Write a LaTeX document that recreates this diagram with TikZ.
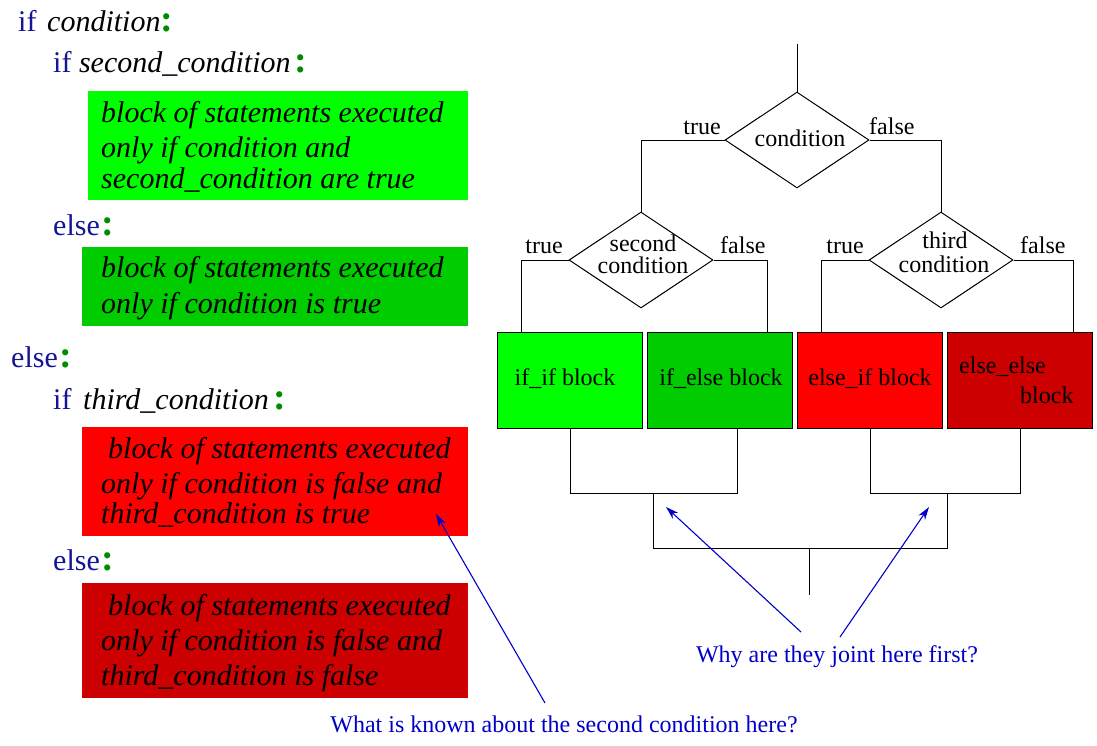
\documentclass[tikz,border=0pt]{standalone}
\usepackage{fontspec}
\setmainfont{Liberation Serif}[ItalicFont=Liberation Serif Italic]
\usetikzlibrary{shapes.geometric,arrows.meta}

\definecolor{kwblue}{RGB}{20,20,150}
\definecolor{colgreen}{RGB}{0,140,0}
\definecolor{noteblue}{RGB}{0,0,200}
\definecolor{ififfill}{RGB}{0,255,0}
\definecolor{ifelsefill}{RGB}{0,204,0}
\definecolor{elseiffill}{RGB}{255,0,0}
\definecolor{elseelsefill}{RGB}{204,0,0}

\newcommand\kwd[1]{\textcolor{kwblue}{#1}}
\newcommand\colmark{\textcolor{colgreen}{{\fontsize{38}{38}\selectfont\bfseries :}}}

\begin{document}
\begin{tikzpicture}[x=1pt,y=-1pt,
  code/.style={anchor=base west, inner sep=0pt, font=\fontsize{30}{36}\selectfont},
  stmt/.style={anchor=base west, inner sep=0pt, font=\fontsize{30}{36}\selectfont\itshape},
  panel/.style={anchor=north west, inner sep=0pt, outer sep=0pt, draw=none, fill=#1},
  lbl/.style={inner sep=0pt, font=\fontsize{24}{24}\selectfont, anchor=base},
  decision/.style={diamond, draw=black, fill=white, line width=1pt, inner sep=0pt,
                   minimum width=144pt, minimum height=96pt},
  blockbox/.style={rectangle, draw=black, line width=1pt, fill=#1, inner sep=0pt,
                   minimum width=145pt, minimum height=96pt, anchor=north west},
  wire/.style={draw=black, line width=1pt},
  note/.style={inner sep=0pt, font=\fontsize{24}{24}\selectfont, text=noteblue, anchor=base},
  pointer/.style={draw=noteblue, line width=1.1pt, -{Stealth[length=13pt,width=8pt]}}
]
\useasboundingbox (0,0) rectangle (1097,745);

% ---------------- code listing ----------------
\node[panel=ififfill,     minimum width=380pt, minimum height=109pt] (p1) at (88,91) {};
\node[panel=ifelsefill,   minimum width=386pt, minimum height=79pt]  (p2) at (82,247) {};
\node[panel=elseiffill,   minimum width=386pt, minimum height=109pt] (p3) at (82,427) {};
\node[panel=elseelsefill, minimum width=386pt, minimum height=115pt] (p4) at (82,583) {};

\node[code] (l1) at (18,31)  {\kwd{if}\hskip10.7pt\textit{condition}\colmark};
\node[code] (l2) at (53,72)  {\kwd{if} \textit{second\_condition}\hskip4pt\colmark};
\node[code] (l3) at (53,235) {\kwd{else}\kern2pt\colmark};
\node[code] (l4) at (11,367) {\kwd{else}\kern2pt\colmark};
\node[code] (l5) at (53,409) {\kwd{if}\hskip11.7pt\textit{third\_condition}\hskip5pt\colmark};
\node[code] (l6) at (53,570) {\kwd{else}\kern2pt\colmark};

\node[stmt] (s11) at (101,122) {block of statements executed};
\node[stmt] (s12) at (101,157) {only if condition and};
\node[stmt] (s13) at (101,188) {second\_condition are true};
\node[stmt] (s21) at (101,277) {block of statements executed};
\node[stmt] (s22) at (101,313) {only if condition is true};
\node[stmt] (s31) at (108,458) {block of statements executed};
\node[stmt] (s32) at (101,493) {only if condition is false and};
\node[stmt] (s33) at (101,523) {third\_condition is true};
\node[stmt] (s41) at (108,615) {block of statements executed};
\node[stmt] (s42) at (101,650) {only if condition is false and};
\node[stmt] (s43) at (101,685) {third\_condition is false};

% ---------------- flow chart ----------------
\node[decision] (d1) at (797,140) {};
\node[decision] (d2) at (641,260) {};
\node[decision] (d3) at (941,260) {};

\node[blockbox=ififfill]     (f1) at (497,332) {};
\node[blockbox=ifelsefill]   (f2) at (647,332) {};
\node[blockbox=elseiffill]   (f3) at (797,332) {};
\node[blockbox=elseelsefill] (f4) at (947,332) {};

\node[lbl] (c1) at (800,146) {condition};
\node[lbl] (c2a) at (643,251) {second};
\node[lbl] (c2b) at (643,273) {condition};
\node[lbl] (c3a) at (945,248) {third};
\node[lbl] (c3b) at (944,272) {condition};

\node[lbl, anchor=base east] (t1) at (721,134) {true};
\node[lbl, anchor=base west] (e1) at (869,134) {false};
\node[lbl, anchor=base east] (t2) at (563,253) {true};
\node[lbl, anchor=base west] (e2) at (720,253) {false};
\node[lbl, anchor=base east] (t3) at (864,253) {true};
\node[lbl, anchor=base west] (e3) at (1020,253) {false};

\node[lbl] (b1) at (565,385) {if\_if block};
\node[lbl] (b2) at (721,385) {if\_else block};
\node[lbl] (b3) at (870,385) {else\_if block};
\node[lbl, anchor=base west] (b4a) at (959,373) {else\_else};
\node[lbl, anchor=base west] (b4b) at (1020,403) {block};

% entry and branches
\coordinate (entry) at (797,44);
\draw[wire] (entry) -- (d1.north);
\draw[wire] (d1.west) -| (d2.north);
\draw[wire] (d1.east) -| (d3.north);
\draw[wire] (d2.west) -| ([xshift=24pt]f1.north west);
\draw[wire] (d2.east) -| ([xshift=120pt]f2.north west);
\draw[wire] (d3.west) -| ([xshift=24pt]f3.north west);
\draw[wire] (d3.east) -| ([xshift=126pt]f4.north west);

% merging of the four blocks
\coordinate (f2out) at ([xshift=90pt]f2.south west);
\coordinate (j1) at (653,493);
\coordinate (j2) at (947,493);
\coordinate (m)  at (809,548);
\coordinate (exit) at (809,595);
\draw[wire] (f1.south) |- (f2out |- j1) -- (f2out);
\draw[wire] (f3.south) |- (f4.south |- j2) -- (f4.south);
\draw[wire] (j1) |- (m) -| (j2);
\draw[wire] (m) -- (exit);

% ---------------- questions ----------------
\node[note] (q1) at (837,662) {Why are they joint here first?};
\node[note] (q2) at (564,732) {What is known about the second condition here?};

\coordinate (q1a) at (801,632);
\coordinate (q1b) at (840,637);
\coordinate (h1) at (666,507);
\coordinate (h2) at (929,507);
\coordinate (q2a) at (545,703);
\coordinate (h3) at (436,514);
\draw[pointer] (q1a) -- (h1);
\draw[pointer] (q1b) -- (h2);
\draw[pointer] (q2a) -- (h3);
\end{tikzpicture}
\end{document}
